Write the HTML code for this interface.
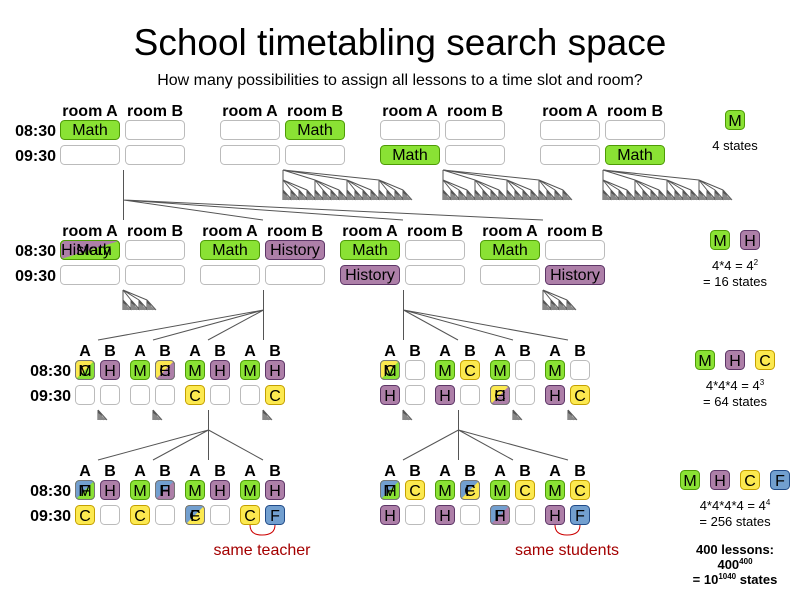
<!DOCTYPE html>
<html><head><meta charset="utf-8"><style>
body{margin:0;background:#fff}
svg{display:block;font-family:"Liberation Sans",sans-serif}
.g{fill:#8ae234;stroke:#4e9a06}.p{fill:#ad7fa8;stroke:#5c3566}.y{fill:#fce94f;stroke:#c4a000}.b{fill:#729fcf;stroke:#204a87}.e{fill:#fff;stroke:#bbb}
.n{fill:none;stroke:#777}
.h{font-weight:bold;font-size:16px;text-anchor:middle}
.t{font-weight:bold;font-size:16px;text-anchor:end}
.c{font-size:16px;text-anchor:middle}
.l{fill:none;stroke:#555;stroke-width:1}
.s{font-size:13px;text-anchor:middle}
.sb{font-size:13px;text-anchor:middle;font-weight:bold}
</style></head><body>
<svg width="800" height="600" viewBox="0 0 800 600" xmlns="http://www.w3.org/2000/svg">
<defs>
<g id="ss"><path class="l" d="M0 0L0 10M0 0L3 10M0 0L6 10M0 0L9 10"/><path d="M0 3L9 10L0 10Z" fill="#888"/></g>
<g id="sb"><path class="l" d="M0 0L0 10M0 0L8 10M0 0L16 10M0 0L24 10"/><use href="#ss" x="0" y="10"/><use href="#ss" x="8" y="10"/><use href="#ss" x="16" y="10"/><use href="#ss" x="24" y="10"/></g>
<g id="bf"><path class="l" d="M0 0L0 10M0 0L32 10M0 0L64 10M0 0L96 10"/><use href="#sb" x="0" y="10"/><use href="#sb" x="32" y="10"/><use href="#sb" x="64" y="10"/><use href="#sb" x="96" y="10"/></g>
</defs>
<text x="400" y="55" font-size="37" text-anchor="middle">School timetabling search space</text>
<text x="400" y="85" font-size="16" text-anchor="middle">How many possibilities to assign all lessons to a time slot and room?</text>

<!-- Row 1 -->
<g class="h"><text x="90" y="116">room A</text><text x="155" y="116">room B</text><text x="250" y="116">room A</text><text x="315" y="116">room B</text><text x="410" y="116">room A</text><text x="475" y="116">room B</text><text x="570" y="116">room A</text><text x="635" y="116">room B</text></g>
<g class="t"><text x="56" y="136">08:30</text><text x="56" y="161">09:30</text></g>
<rect class="g" x="60.5" y="120.5" width="59" height="19" rx="4"/><rect class="e" x="125.5" y="120.5" width="59" height="19" rx="4"/><rect class="e" x="60.5" y="145.5" width="59" height="19" rx="4"/><rect class="e" x="125.5" y="145.5" width="59" height="19" rx="4"/>
<rect class="e" x="220.5" y="120.5" width="59" height="19" rx="4"/><rect class="g" x="285.5" y="120.5" width="59" height="19" rx="4"/><rect class="e" x="220.5" y="145.5" width="59" height="19" rx="4"/><rect class="e" x="285.5" y="145.5" width="59" height="19" rx="4"/>
<rect class="e" x="380.5" y="120.5" width="59" height="19" rx="4"/><rect class="e" x="445.5" y="120.5" width="59" height="19" rx="4"/><rect class="g" x="380.5" y="145.5" width="59" height="19" rx="4"/><rect class="e" x="445.5" y="145.5" width="59" height="19" rx="4"/>
<rect class="e" x="540.5" y="120.5" width="59" height="19" rx="4"/><rect class="e" x="605.5" y="120.5" width="59" height="19" rx="4"/><rect class="e" x="540.5" y="145.5" width="59" height="19" rx="4"/><rect class="g" x="605.5" y="145.5" width="59" height="19" rx="4"/>
<g class="c"><text x="90" y="135">Math</text><text x="315" y="135">Math</text><text x="410" y="160">Math</text><text x="635" y="160">Math</text></g>
<rect class="g" x="725.5" y="110.5" width="19" height="19" rx="4"/><text class="c" x="735" y="126">M</text>
<text class="s" x="735" y="150">4 states</text>

<path class="l" d="M123.5 170V220M123.5 200L263 220M123.5 200L403 220M123.5 200L543 220"/>
<use href="#bf" x="283" y="170"/><use href="#bf" x="443" y="170"/><use href="#bf" x="603" y="170"/>

<!-- Row 2 -->
<g class="h"><text x="90" y="236">room A</text><text x="155" y="236">room B</text><text x="230" y="236">room A</text><text x="295" y="236">room B</text><text x="370" y="236">room A</text><text x="435" y="236">room B</text><text x="510" y="236">room A</text><text x="575" y="236">room B</text></g>
<g class="t"><text x="56" y="256">08:30</text><text x="56" y="281">09:30</text></g>
<rect class="g" x="60.5" y="240.5" width="59" height="19" rx="4"/><path d="M64 241H119L61 259V244Z" fill="#ad7fa8"/><rect x="60.5" y="240.5" width="59" height="19" rx="4" fill="none" stroke="#4e9a06"/>
<rect class="e" x="125.5" y="240.5" width="59" height="19" rx="4"/><rect class="e" x="60.5" y="265.5" width="59" height="19" rx="4"/><rect class="e" x="125.5" y="265.5" width="59" height="19" rx="4"/>
<rect class="g" x="200.5" y="240.5" width="59" height="19" rx="4"/><rect class="p" x="265.5" y="240.5" width="59" height="19" rx="4"/><rect class="e" x="200.5" y="265.5" width="59" height="19" rx="4"/><rect class="e" x="265.5" y="265.5" width="59" height="19" rx="4"/>
<rect class="g" x="340.5" y="240.5" width="59" height="19" rx="4"/><rect class="e" x="405.5" y="240.5" width="59" height="19" rx="4"/><rect class="p" x="340.5" y="265.5" width="59" height="19" rx="4"/><rect class="e" x="405.5" y="265.5" width="59" height="19" rx="4"/>
<rect class="g" x="480.5" y="240.5" width="59" height="19" rx="4"/><rect class="e" x="545.5" y="240.5" width="59" height="19" rx="4"/><rect class="e" x="480.5" y="265.5" width="59" height="19" rx="4"/><rect class="p" x="545.5" y="265.5" width="59" height="19" rx="4"/>
<g class="c"><text x="86" y="255">History</text><text x="94" y="255">Math</text><text x="230" y="255">Math</text><text x="295" y="255">History</text><text x="370" y="255">Math</text><text x="370" y="280">History</text><text x="510" y="255">Math</text><text x="575" y="280">History</text></g>
<rect class="g" x="710.5" y="230.5" width="19" height="19" rx="4"/><rect class="p" x="740.5" y="230.5" width="19" height="19" rx="4"/>
<g class="c"><text x="720" y="246">M</text><text x="750" y="246">H</text></g>
<text class="s" x="735" y="270">4*4 = 4<tspan font-size="8" dy="-5">2</tspan></text>
<text class="s" x="735" y="286">= 16 states</text>

<use href="#sb" x="123" y="290"/><use href="#sb" x="543" y="290"/>
<path class="l" d="M263.5 290V340M263.5 310L98 340M263.5 310L153 340M263.5 310L208 340"/>
<path class="l" d="M403.5 290V340M403.5 310L458 340M403.5 310L513 340M403.5 310L568 340"/>

<!-- Row 3 -->
<g class="h"><text x="85" y="356">A</text><text x="110" y="356">B</text><text x="140" y="356">A</text><text x="165" y="356">B</text><text x="195" y="356">A</text><text x="220" y="356">B</text><text x="250" y="356">A</text><text x="275" y="356">B</text>
<text x="390" y="356">A</text><text x="415" y="356">B</text><text x="445" y="356">A</text><text x="470" y="356">B</text><text x="500" y="356">A</text><text x="525" y="356">B</text><text x="555" y="356">A</text><text x="580" y="356">B</text></g>
<g class="t"><text x="71" y="376">08:30</text><text x="71" y="401">09:30</text></g>
<rect class="g" x="75.5" y="360.5" width="19" height="19" rx="4"/><path d="M76 361H94L76 379Z" fill="#fce94f"/><rect class="n" x="75.5" y="360.5" width="19" height="19" rx="4" stroke="#c4a000"/>
<rect class="p" x="100.5" y="360.5" width="19" height="19" rx="4"/><rect class="e" x="75.5" y="385.5" width="19" height="19" rx="4"/><rect class="e" x="100.5" y="385.5" width="19" height="19" rx="4"/>
<rect class="g" x="130.5" y="360.5" width="19" height="19" rx="4"/><rect class="p" x="155.5" y="360.5" width="19" height="19" rx="4"/><path d="M156 361H174L156 379Z" fill="#fce94f"/><rect class="n" x="155.5" y="360.5" width="19" height="19" rx="4" stroke="#c4a000"/>
<rect class="e" x="130.5" y="385.5" width="19" height="19" rx="4"/><rect class="e" x="155.5" y="385.5" width="19" height="19" rx="4"/>
<rect class="g" x="185.5" y="360.5" width="19" height="19" rx="4"/><rect class="p" x="210.5" y="360.5" width="19" height="19" rx="4"/><rect class="y" x="185.5" y="385.5" width="19" height="19" rx="4"/><rect class="e" x="210.5" y="385.5" width="19" height="19" rx="4"/>
<rect class="g" x="240.5" y="360.5" width="19" height="19" rx="4"/><rect class="p" x="265.5" y="360.5" width="19" height="19" rx="4"/><rect class="e" x="240.5" y="385.5" width="19" height="19" rx="4"/><rect class="y" x="265.5" y="385.5" width="19" height="19" rx="4"/>
<g class="c"><text x="85" y="376">C</text><text x="85" y="376">M</text><text x="110" y="376">H</text><text x="140" y="376">M</text><text x="165" y="376">C</text><text x="165" y="376">H</text><text x="195" y="376">M</text><text x="220" y="376">H</text><text x="195" y="401">C</text><text x="250" y="376">M</text><text x="275" y="376">H</text><text x="275" y="401">C</text></g>
<rect class="g" x="380.5" y="360.5" width="19" height="19" rx="4"/><path d="M381 361H399L381 379Z" fill="#fce94f"/><rect class="n" x="380.5" y="360.5" width="19" height="19" rx="4" stroke="#c4a000"/>
<rect class="e" x="405.5" y="360.5" width="19" height="19" rx="4"/><rect class="p" x="380.5" y="385.5" width="19" height="19" rx="4"/><rect class="e" x="405.5" y="385.5" width="19" height="19" rx="4"/>
<rect class="g" x="435.5" y="360.5" width="19" height="19" rx="4"/><rect class="y" x="460.5" y="360.5" width="19" height="19" rx="4"/><rect class="p" x="435.5" y="385.5" width="19" height="19" rx="4"/><rect class="e" x="460.5" y="385.5" width="19" height="19" rx="4"/>
<rect class="g" x="490.5" y="360.5" width="19" height="19" rx="4"/><rect class="e" x="515.5" y="360.5" width="19" height="19" rx="4"/><rect class="p" x="490.5" y="385.5" width="19" height="19" rx="4"/><path d="M491 386H509L491 404Z" fill="#fce94f"/><rect class="n" x="490.5" y="385.5" width="19" height="19" rx="4" stroke="#c4a000"/><rect class="e" x="515.5" y="385.5" width="19" height="19" rx="4"/>
<rect class="g" x="545.5" y="360.5" width="19" height="19" rx="4"/><rect class="e" x="570.5" y="360.5" width="19" height="19" rx="4"/><rect class="p" x="545.5" y="385.5" width="19" height="19" rx="4"/><rect class="y" x="570.5" y="385.5" width="19" height="19" rx="4"/>
<g class="c"><text x="390" y="376">C</text><text x="390" y="376">M</text><text x="390" y="401">H</text><text x="445" y="376">M</text><text x="470" y="376">C</text><text x="445" y="401">H</text><text x="500" y="376">M</text><text x="500" y="401">C</text><text x="500" y="401">H</text><text x="555" y="376">M</text><text x="555" y="401">H</text><text x="580" y="401">C</text></g>
<rect class="g" x="695.5" y="350.5" width="19" height="19" rx="4"/><rect class="p" x="725.5" y="350.5" width="19" height="19" rx="4"/><rect class="y" x="755.5" y="350.5" width="19" height="19" rx="4"/>
<g class="c"><text x="705" y="366">M</text><text x="735" y="366">H</text><text x="765" y="366">C</text></g>
<text class="s" x="735" y="390">4*4*4 = 4<tspan font-size="8" dy="-5">3</tspan></text>
<text class="s" x="735" y="406">= 64 states</text>

<use href="#ss" x="98" y="410"/><use href="#ss" x="153" y="410"/><use href="#ss" x="263" y="410"/>
<use href="#ss" x="403" y="410"/><use href="#ss" x="513" y="410"/><use href="#ss" x="568" y="410"/>
<path class="l" d="M208.5 410V460M208.5 430L98 460M208.5 430L153 460M208.5 430L263 460"/>
<path class="l" d="M458.5 410V460M458.5 430L403 460M458.5 430L513 460M458.5 430L568 460"/>

<!-- Row 4 -->
<g class="h"><text x="85" y="476">A</text><text x="110" y="476">B</text><text x="140" y="476">A</text><text x="165" y="476">B</text><text x="195" y="476">A</text><text x="220" y="476">B</text><text x="250" y="476">A</text><text x="275" y="476">B</text>
<text x="390" y="476">A</text><text x="415" y="476">B</text><text x="445" y="476">A</text><text x="470" y="476">B</text><text x="500" y="476">A</text><text x="525" y="476">B</text><text x="555" y="476">A</text><text x="580" y="476">B</text></g>
<g class="t"><text x="71" y="496">08:30</text><text x="71" y="521">09:30</text></g>
<rect class="g" x="75.5" y="480.5" width="19" height="19" rx="4"/><path d="M76 481H94L76 499Z" fill="#729fcf"/><rect class="n" x="75.5" y="480.5" width="19" height="19" rx="4" stroke="#204a87"/>
<rect class="p" x="100.5" y="480.5" width="19" height="19" rx="4"/><rect class="y" x="75.5" y="505.5" width="19" height="19" rx="4"/><rect class="e" x="100.5" y="505.5" width="19" height="19" rx="4"/>
<rect class="g" x="130.5" y="480.5" width="19" height="19" rx="4"/><rect class="p" x="155.5" y="480.5" width="19" height="19" rx="4"/><path d="M156 481H174L156 499Z" fill="#729fcf"/><rect class="n" x="155.5" y="480.5" width="19" height="19" rx="4" stroke="#204a87"/>
<rect class="y" x="130.5" y="505.5" width="19" height="19" rx="4"/><rect class="e" x="155.5" y="505.5" width="19" height="19" rx="4"/>
<rect class="g" x="185.5" y="480.5" width="19" height="19" rx="4"/><rect class="p" x="210.5" y="480.5" width="19" height="19" rx="4"/><rect class="y" x="185.5" y="505.5" width="19" height="19" rx="4"/><path d="M186 506H204L186 524Z" fill="#729fcf"/><rect class="n" x="185.5" y="505.5" width="19" height="19" rx="4" stroke="#204a87"/><rect class="e" x="210.5" y="505.5" width="19" height="19" rx="4"/>
<rect class="g" x="240.5" y="480.5" width="19" height="19" rx="4"/><rect class="p" x="265.5" y="480.5" width="19" height="19" rx="4"/><rect class="y" x="240.5" y="505.5" width="19" height="19" rx="4"/><rect class="b" x="265.5" y="505.5" width="19" height="19" rx="4"/>
<g class="c"><text x="85" y="496">F</text><text x="85" y="496">M</text><text x="110" y="496">H</text><text x="85" y="521">C</text><text x="140" y="496">M</text><text x="165" y="496">F</text><text x="165" y="496">H</text><text x="140" y="521">C</text><text x="195" y="496">M</text><text x="220" y="496">H</text><text x="195" y="521">F</text><text x="195" y="521">C</text><text x="250" y="496">M</text><text x="275" y="496">H</text><text x="250" y="521">C</text><text x="275" y="521">F</text></g>
<path d="M250 525Q250 535 262 535Q275 535 275 525" fill="none" stroke="#c00"/>
<text x="262" y="555" font-size="16" text-anchor="middle" fill="#a40000">same teacher</text>
<rect class="g" x="380.5" y="480.5" width="19" height="19" rx="4"/><path d="M381 481H399L381 499Z" fill="#729fcf"/><rect class="n" x="380.5" y="480.5" width="19" height="19" rx="4" stroke="#204a87"/>
<rect class="y" x="405.5" y="480.5" width="19" height="19" rx="4"/><rect class="p" x="380.5" y="505.5" width="19" height="19" rx="4"/><rect class="e" x="405.5" y="505.5" width="19" height="19" rx="4"/>
<rect class="g" x="435.5" y="480.5" width="19" height="19" rx="4"/><rect class="y" x="460.5" y="480.5" width="19" height="19" rx="4"/><path d="M461 481H479L461 499Z" fill="#729fcf"/><rect class="n" x="460.5" y="480.5" width="19" height="19" rx="4" stroke="#204a87"/>
<rect class="p" x="435.5" y="505.5" width="19" height="19" rx="4"/><rect class="e" x="460.5" y="505.5" width="19" height="19" rx="4"/>
<rect class="g" x="490.5" y="480.5" width="19" height="19" rx="4"/><rect class="y" x="515.5" y="480.5" width="19" height="19" rx="4"/><rect class="p" x="490.5" y="505.5" width="19" height="19" rx="4"/><path d="M491 506H509L491 524Z" fill="#729fcf"/><rect class="n" x="490.5" y="505.5" width="19" height="19" rx="4" stroke="#204a87"/><rect class="e" x="515.5" y="505.5" width="19" height="19" rx="4"/>
<rect class="g" x="545.5" y="480.5" width="19" height="19" rx="4"/><rect class="y" x="570.5" y="480.5" width="19" height="19" rx="4"/><rect class="p" x="545.5" y="505.5" width="19" height="19" rx="4"/><rect class="b" x="570.5" y="505.5" width="19" height="19" rx="4"/>
<g class="c"><text x="390" y="496">F</text><text x="390" y="496">M</text><text x="415" y="496">C</text><text x="390" y="521">H</text><text x="445" y="496">M</text><text x="470" y="496">F</text><text x="470" y="496">C</text><text x="445" y="521">H</text><text x="500" y="496">M</text><text x="525" y="496">C</text><text x="500" y="521">F</text><text x="500" y="521">H</text><text x="555" y="496">M</text><text x="580" y="496">C</text><text x="555" y="521">H</text><text x="580" y="521">F</text></g>
<path d="M555 525Q555 535 567 535Q580 535 580 525" fill="none" stroke="#c00"/>
<text x="567" y="555" font-size="16" text-anchor="middle" fill="#a40000">same students</text>
<rect class="g" x="680.5" y="470.5" width="19" height="19" rx="4"/><rect class="p" x="710.5" y="470.5" width="19" height="19" rx="4"/><rect class="y" x="740.5" y="470.5" width="19" height="19" rx="4"/><rect class="b" x="770.5" y="470.5" width="19" height="19" rx="4"/>
<g class="c"><text x="690" y="486">M</text><text x="720" y="486">H</text><text x="750" y="486">C</text><text x="780" y="486">F</text></g>
<text class="s" x="735" y="510">4*4*4*4 = 4<tspan font-size="8" dy="-5">4</tspan></text>
<text class="s" x="735" y="526">= 256 states</text>
<text class="sb" x="735" y="554">400 lessons:</text>
<text class="sb" x="735" y="569">400<tspan font-size="8" dy="-5">400</tspan></text>
<text class="sb" x="735" y="584">= 10<tspan font-size="8" dy="-5">1040</tspan><tspan dy="5"> states</tspan></text>
</svg>
</body></html>
